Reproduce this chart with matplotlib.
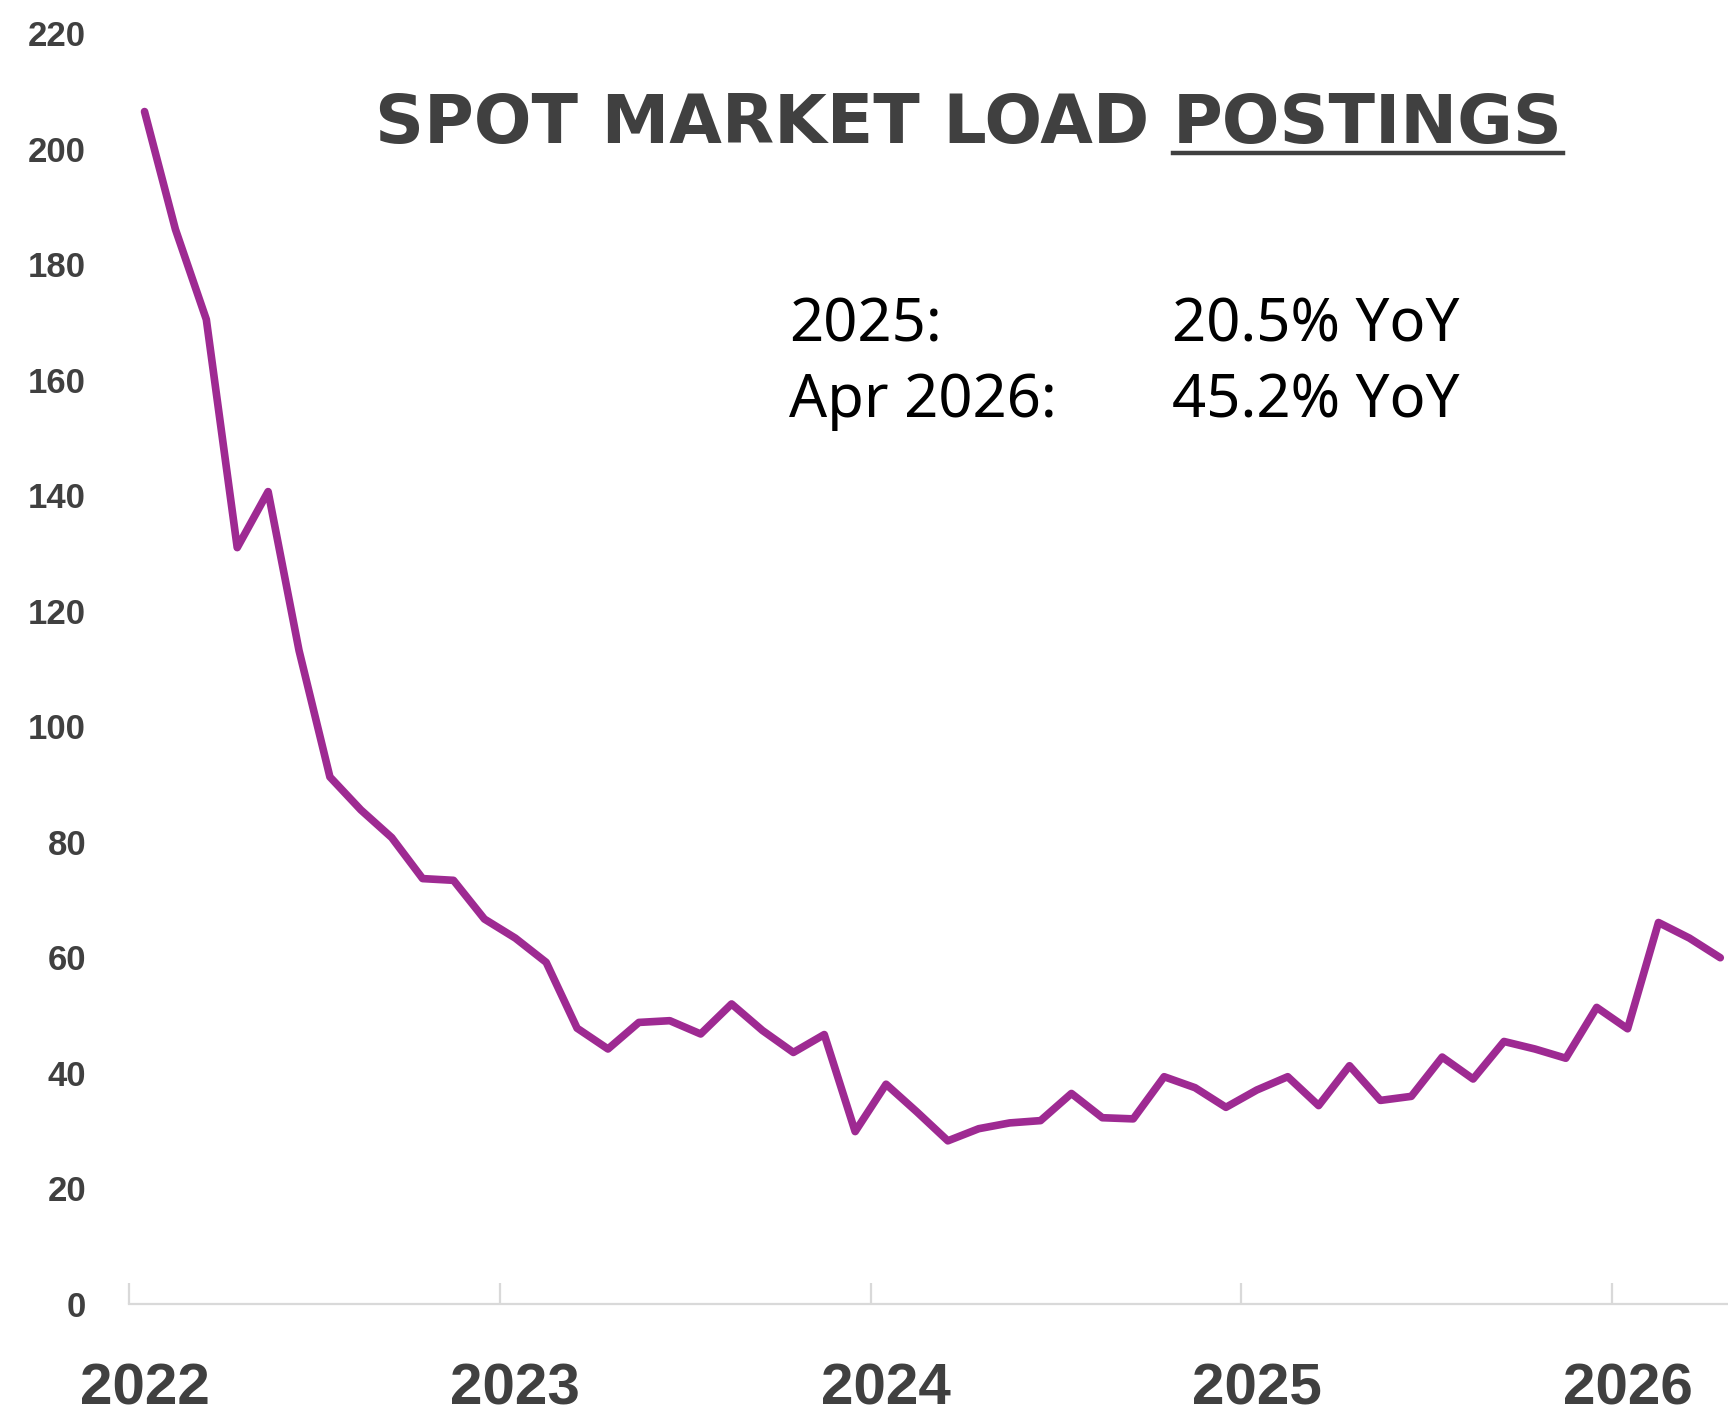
import numpy as np
import matplotlib
matplotlib.use("Agg")
import matplotlib.pyplot as plt
from matplotlib.lines import Line2D

# monthly spot market load postings, Jan 2022 .. Apr 2026
postings = [206.4, 186.0, 170.4, 130.9, 140.6, 113.1, 91.2, 85.5, 80.7, 73.6, 73.3, 66.6,
            63.3, 59.1, 47.7, 44.1, 48.7, 49.0, 46.7, 51.9, 47.3, 43.5, 46.6, 29.8,
            38.0, 33.2, 28.2, 30.3, 31.3, 31.7, 36.4, 32.2, 32.0, 39.3, 37.4, 34.0,
            37.0, 39.3, 34.3, 41.2, 35.2, 35.9, 42.7, 38.9, 45.4, 44.1, 42.5, 51.3,
            47.6, 66.0, 63.3, 59.9]
years = ["2022", "2023", "2024", "2025", "2026"]
y_ticks = [0, 20, 40, 60, 80, 100, 120, 140, 160, 180, 200, 220]

title_left = "SPOT MARKET LOAD "
title_under = "POSTINGS"
note_labels = ["2025:", "Apr 2026:"]
note_values = ["20.5% YoY", "45.2% YoY"]

line_color = "#9E2A92"
text_gray = "#404040"
axis_gray = "#D9D9D9"

fig = plt.figure(figsize=(17.28, 14.16), dpi=100)
ax = fig.add_axes([0.0747, 0.0793, 0.9253, 0.8974])

# points sit in the middle of each month slot
x = np.arange(len(postings)) + 0.5
ax.plot(x, postings, color=line_color, lw=5.5,
        solid_joinstyle="round", solid_capstyle="round", clip_on=False)

ax.set_xlim(0, 51.75)
ax.set_ylim(0, 220)

for s in ["top", "right", "left"]:
    ax.spines[s].set_visible(False)
ax.spines["bottom"].set_color(axis_gray)
ax.spines["bottom"].set_linewidth(1.6)

ax.set_yticks(y_ticks)
ax.set_yticklabels([str(v) for v in y_ticks], fontsize=25, fontweight="bold",
                   color=text_gray, family="Liberation Sans")
ax.tick_params(axis="y", length=0, pad=31)

# year boundaries get a tick, labels sit under January
ax.set_xticks([0, 12, 24, 36, 48])
ax.set_xticklabels([])
ax.tick_params(axis="x", which="major", direction="in", length=15,
               width=1.6, color=axis_gray)
ax.set_xticks([0.5, 12.5, 24.5, 36.5, 48.5], minor=True)
ax.set_xticklabels(years, minor=True, fontsize=42, fontweight="bold",
                   color=text_gray, family="Liberation Sans")
ax.tick_params(axis="x", which="minor", length=0, pad=42)

# title, with the last word underlined
t2 = fig.text(1563 / 1728, 1 - 143 / 1416, title_under, ha="right", va="baseline",
              fontsize=49, fontweight="bold", color=text_gray, family="DejaVu Sans")
fig.canvas.draw()
r = fig.canvas.get_renderer()
bb = t2.get_window_extent(r)
fig.text(bb.x0 / 1728, 1 - 143 / 1416, title_left, ha="right", va="baseline",
         fontsize=49, fontweight="bold", color=text_gray, family="DejaVu Sans")
uy = 1 - 153 / 1416
fig.add_artist(Line2D([bb.x0 / 1728, bb.x1 / 1728], [uy, uy], color=text_gray,
                      lw=3.2, transform=fig.transFigure))

# YoY notes
for i, (lab, val) in enumerate(zip(note_labels, note_values)):
    yy = 1 - (342 + i * 75) / 1416
    fig.text(789 / 1728, yy, lab, ha="left", va="baseline", fontsize=43,
             color="black", family="Noto Sans")
    fig.text(1172 / 1728, yy, val, ha="left", va="baseline", fontsize=43,
             color="black", family="Noto Sans")

fig.savefig("out.png", dpi=100, facecolor="white")
